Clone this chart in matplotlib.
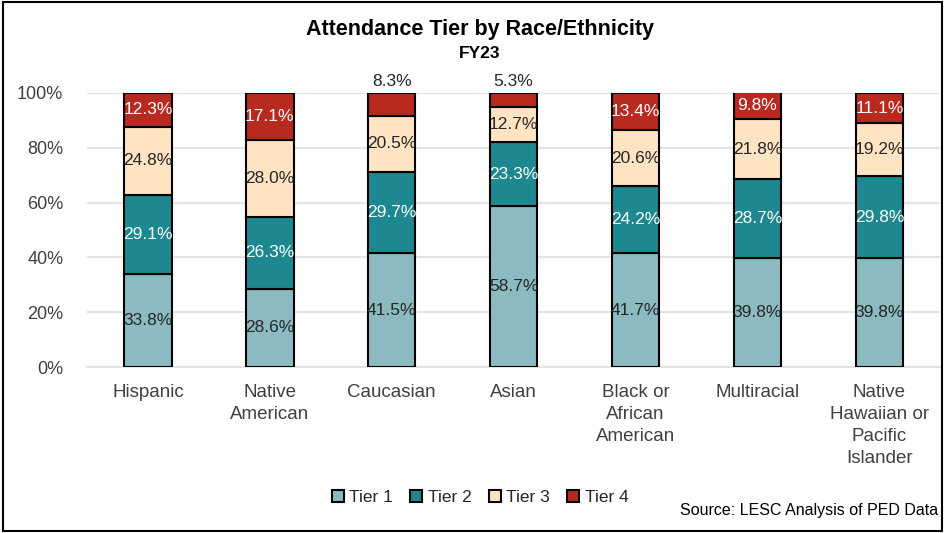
import matplotlib as mpl
import matplotlib.pyplot as plt
import numpy as np

mpl.rcParams['font.family'] = ['Liberation Sans', 'DejaVu Sans']

categories = ["Hispanic", "Native\nAmerican", "Caucasian", "Asian",
              "Black or\nAfrican\nAmerican", "Multiracial",
              "Native\nHawaiian or\nPacific\nIslander"]
tier1 = [33.8, 28.6, 41.5, 58.7, 41.7, 39.8, 39.8]
tier2 = [29.1, 26.3, 29.7, 23.3, 24.2, 28.7, 29.8]
tier3 = [24.8, 28.0, 20.5, 12.7, 20.6, 21.8, 19.2]
tier4 = [12.3, 17.1, 8.3, 5.3, 13.4, 9.8, 11.1]
tier_names = ["Tier 1", "Tier 2", "Tier 3", "Tier 4"]

colors = ["#8BBAC1", "#1D8890", "#FFE4C4", "#B8291F"]
text_colors = ["#262626", "white", "#262626", "white"]

fig = plt.figure(figsize=(9.45, 5.33), dpi=100)
ax = fig.add_axes([0.092, 0.311, 0.903, 0.515])

x = np.arange(len(categories))
bottom = np.zeros(len(categories))
series = [tier1, tier2, tier3, tier4]
for i, vals in enumerate(series):
    vals = np.array(vals)
    bars = ax.bar(x, vals, width=0.39, bottom=bottom, color=colors[i],
                  edgecolor="black", linewidth=1.5, label=tier_names[i], zorder=3)
    for j, v in enumerate(vals):
        if v < 9:
            # small segments labelled above the bar
            ax.text(x[j], 101.5, f"{v:.1f}%", ha="center", va="bottom",
                    fontsize=12.5, color="#262626")
        else:
            ax.text(x[j], bottom[j] + v / 2, f"{v:.1f}%", ha="center", va="center",
                    fontsize=12.5, color=text_colors[i], zorder=4)
    bottom += vals

ax.set_xlim(-0.5, len(categories) - 0.5)
ax.set_ylim(0, 100)
ax.set_yticks(np.arange(0, 101, 20))
ax.set_yticklabels([f"{t}%" for t in range(0, 101, 20)])
ax.set_xticks(x)
ax.set_xticklabels(categories, va="top", linespacing=1.38)
ax.tick_params(axis="both", length=0, labelsize=13.5, colors="#404040")
ax.tick_params(axis="y", labelsize=13)
ax.tick_params(axis="x", pad=12)
ax.tick_params(axis="y", pad=17)
ax.grid(axis="y", color="#E3E3E3", linewidth=1.5, zorder=0)
for s in ["top", "right", "left"]:
    ax.spines[s].set_visible(False)
ax.spines["bottom"].set_color("#E3E3E3")
ax.spines["bottom"].set_linewidth(1.5)

fig.text(0.508, 0.944, "Attendance Tier by Race/Ethnicity", ha="center", va="center",
         fontsize=15.5, color="black", fontweight="bold",
         family=["Liberation Sans Narrow", "Liberation Sans"])
fig.text(0.508, 0.899, "FY23", ha="center", va="center", fontsize=12.5, color="black",
         fontweight="bold", family=["Liberation Sans Narrow", "Liberation Sans"])

leg = ax.legend(loc="center", ncol=4, frameon=False, fontsize=12.5,
                handlelength=0.7, handleheight=0.7,
                handletextpad=0.3, columnspacing=1.0)
leg.set_bbox_to_anchor((0.508, 0.067), transform=fig.transFigure)
for t in leg.get_texts():
    t.set_color("#262626")

fig.text(0.993, 0.043, "Source: LESC Analysis of PED Data", ha="right", va="center",
         fontsize=11.5, color="black")

fig.add_artist(plt.Rectangle((0.003, 0.004), 0.994, 0.992, transform=fig.transFigure,
                             fill=False, edgecolor="black", linewidth=1.5))

fig.savefig("out.png", dpi=100)
